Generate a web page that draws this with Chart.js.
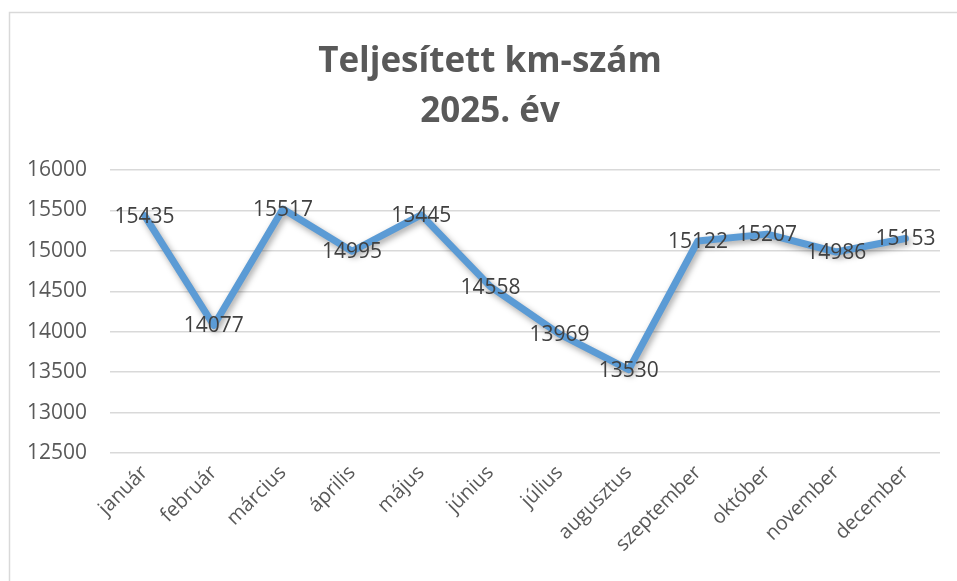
<!DOCTYPE html>
<html lang="hu">
<head>
<meta charset="utf-8">
<title>Teljesített km-szám 2025</title>
<script src="https://cdn.jsdelivr.net/npm/chart.js@4.4.1/dist/chart.umd.min.js"></script>
<style>
    html, body { margin: 0; padding: 0; background: #fff; }
    .chart-box { position: relative; width: 957px; height: 581px; }
</style>
</head>
<body>
<div class="chart-box">
    <canvas id="kmChart" width="957" height="581"></canvas>
</div>
<script>
const months = ['január', 'február', 'március', 'április', 'május', 'június',
    'július', 'augusztus', 'szeptember', 'október', 'november', 'december'];
const kmValues = [15435, 14077, 15517, 14995, 15445, 14558, 13969, 13530, 15122, 15207, 14986, 15153];
const yTicks = [12500, 13000, 13500, 14000, 14500, 15000, 15500, 16000];
const titleLines = ['Teljesített km-szám', '2025. év'];

document.addEventListener('DOMContentLoaded', function() {
    const ctx = document.getElementById('kmChart');
    const fontFamily = '"Open Sans", "Noto Sans", sans-serif';

    // keret, fehér háttér és a kétsoros cím (a diagramterület fölött, kicsit jobbra tolva)
    const frame = {
        id: 'frame',
        beforeDraw(chart) {
            const c = chart.ctx;
            c.save();
            c.fillStyle = '#ffffff';
            c.fillRect(0, 0, chart.width, chart.height);
            c.strokeStyle = '#d9d9d9';
            c.lineWidth = 1.5;
            c.strokeRect(9.5, 12.5, chart.width + 20, chart.height + 20);

            c.fillStyle = '#595959';
            c.font = 'bold 35px ' + fontFamily;
            c.textAlign = 'center';
            c.textBaseline = 'middle';
            const cx = (chart.chartArea.left + chart.chartArea.right) / 2 - 35;
            titleLines.forEach((line, i) => {
                c.fillText(line, cx, 62 + i * 50);
            });
            c.restore();
        }
    };

    // árnyék a vonal alá
    const lineShadow = {
        id: 'lineShadow',
        beforeDatasetsDraw(chart) {
            const c = chart.ctx;
            c.save();
            c.shadowColor = 'rgba(0, 0, 0, 0.35)';
            c.shadowBlur = 6;
            c.shadowOffsetX = 2;
            c.shadowOffsetY = 3;
        },
        afterDatasetsDraw(chart) {
            chart.ctx.restore();
        }
    };

    // értékcímkék a pontok közepén
    const valueLabels = {
        id: 'valueLabels',
        afterDatasetsDraw(chart) {
            const c = chart.ctx;
            const meta = chart.getDatasetMeta(0);
            c.save();
            c.fillStyle = '#404040';
            c.font = '21px ' + fontFamily;
            c.textAlign = 'center';
            c.textBaseline = 'middle';
            meta.data.forEach((pt, i) => {
                c.fillText(String(kmValues[i]), pt.x, pt.y + 1);
            });
            c.restore();
        }
    };

    new Chart(ctx, {
        type: 'line',
        data: {
            labels: months,
            datasets: [{
                label: 'km',
                data: kmValues,
                borderColor: '#5b9bd5',
                borderWidth: 7,
                borderJoinStyle: 'round',
                borderCapStyle: 'round',
                pointRadius: 0,
                tension: 0,
                fill: false
            }]
        },
        options: {
            responsive: false,
            animation: false,
            layout: { padding: { left: 26, right: 17, top: 170, bottom: 0 } },
            plugins: {
                legend: { display: false },
                tooltip: { enabled: false },
                title: { display: false }
            },
            scales: {
                y: {
                    min: 12500,
                    max: 16000,
                    afterBuildTicks(scale) {
                        scale.ticks = yTicks.map(v => ({ value: v }));
                    },
                    afterFit(scale) { scale.width = 84; },
                    border: { display: false },
                    grid: { color: '#d9d9d9', lineWidth: 1.5, drawTicks: false },
                    ticks: {
                        color: '#595959',
                        padding: 23,
                        font: { family: fontFamily, size: 21 },
                        callback: value => String(value)
                    }
                },
                x: {
                    offset: true,
                    afterFit(scale) {
                        scale.height = 128;
                        scale.paddingLeft = 0;
                        scale.paddingRight = 0;
                    },
                    border: { display: false },
                    grid: { display: false },
                    ticks: {
                        color: '#595959',
                        minRotation: 45,
                        maxRotation: 45,
                        padding: 0,
                        font: { family: fontFamily, size: 20 }
                    }
                }
            }
        },
        plugins: [frame, lineShadow, valueLabels]
    });
});
</script>
</body>
</html>
